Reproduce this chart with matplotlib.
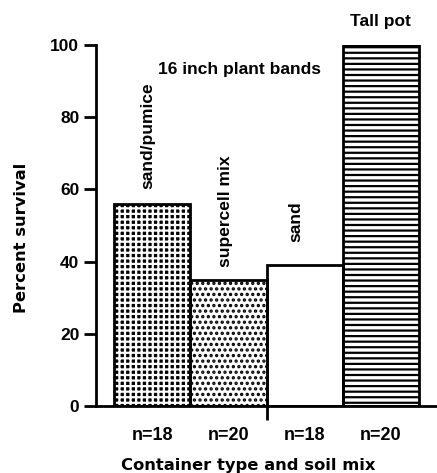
import matplotlib
matplotlib.use("Agg")
import matplotlib.pyplot as plt
from matplotlib.ticker import FixedLocator

plt.rcParams['font.family'] = ['Liberation Sans', 'DejaVu Sans']
plt.rcParams['hatch.linewidth'] = 1.6

categories = ["sand/pumice", "supercell mix", "sand", "Tall pot"]
survival = [56, 35, 39, 100]
n_labels = ["n=18", "n=20", "n=18", "n=20"]
hatches = ["+++", "...", "", "---"]
faces = ["black", "white", "white", "white"]
hatch_colors = ["white", "black", "black", "black"]

fig = plt.figure(figsize=(4.37, 4.73), dpi=100)
ax = fig.add_axes([96/437, (473-406)/473, 1 - 96/437, (406-45)/473])

x = list(range(len(categories)))
for xi, v, h, fc, hc in zip(x, survival, hatches, faces, hatch_colors):
    ax.bar(xi, v, width=1.0, facecolor=fc, edgecolor=hc,
           linewidth=0, hatch=h, zorder=2)
    ax.bar(xi, v, width=1.0, fill=False, edgecolor="black",
           linewidth=2, zorder=3)

ax.set_ylim(0, 100)
ax.set_xlim(-0.736, 3.736)
ax.set_yticks([0, 20, 40, 60, 80, 100])
ax.tick_params(axis='y', labelsize=12.5, width=2, length=9, pad=3)
for lab in ax.get_yticklabels():
    lab.set_fontweight('bold')

ax.xaxis.set_major_locator(FixedLocator([1.5]))
ax.set_xticklabels([""])
ax.tick_params(axis='x', which='major', width=2, length=10, direction='out')
ax.xaxis.set_minor_locator(FixedLocator(x))
ax.set_xticklabels(n_labels, minor=True, fontsize=13, fontweight='bold')
ax.tick_params(axis='x', which='minor', length=0, pad=15)

for s in ['top', 'right']:
    ax.spines[s].set_visible(False)
for s in ['left', 'bottom']:
    ax.spines[s].set_linewidth(2)

ax.set_ylabel("Percent survival", fontsize=11.8, fontweight='bold',
              family=['DejaVu Sans'])
ax.yaxis.set_label_coords(-0.196, 0.465)
ax.set_xlabel("Container type and soil mix", fontsize=11.8, fontweight='bold',
              family=['DejaVu Sans'])
ax.xaxis.set_label_coords(0.446, -0.144)

# bar annotations
ax.text(-0.054, survival[0] + 4.2, categories[0], rotation=90, ha='center', va='bottom',
        fontsize=12.5, fontweight='bold')
ax.text(0.956, survival[1] + 3.6, categories[1], rotation=90, ha='center', va='bottom',
        fontsize=12.5, fontweight='bold')
ax.text(1.887, survival[2] + 6.4, categories[2], rotation=90, ha='center', va='bottom',
        fontsize=12.5, fontweight='bold')
ax.text(3, 106.4, categories[3], ha='center', va='center',
        fontsize=12.5, fontweight='bold', clip_on=False)
ax.text(1.15, 93.2, "16 inch plant bands", ha='center', va='center',
        fontsize=12.5, fontweight='bold')

fig.savefig("out.png", dpi=100)
